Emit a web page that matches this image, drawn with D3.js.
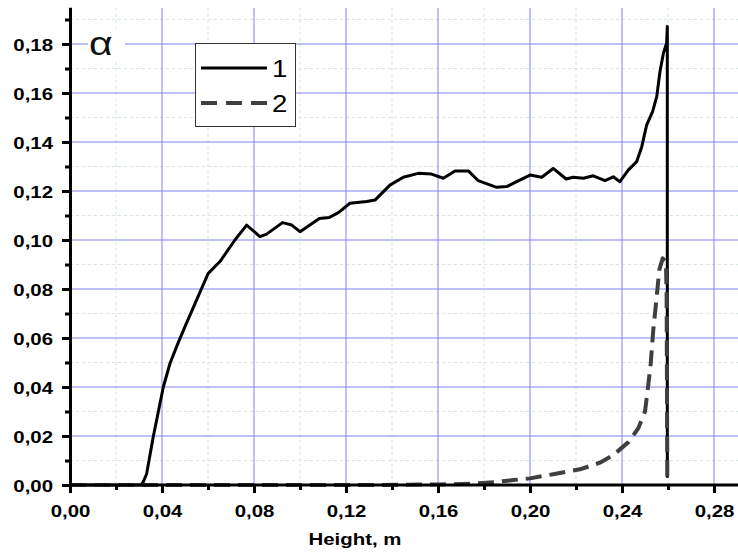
<!DOCTYPE html>
<html>
<head>
<meta charset="utf-8">
<script src="https://cdn.jsdelivr.net/npm/d3@7"></script>
<style>
  html, body { margin: 0; padding: 0; background: #fff; }
  svg { display: block; }
  text { font-family: "Liberation Sans", Arial, sans-serif; }
</style>
</head>
<body>
<svg id="chart" width="738" height="556"></svg>
<script>
// ---- data ----
const heights1 = [0, 0.0308, 0.0318, 0.0333, 0.0362, 0.0384, 0.0406, 0.0435, 0.0471, 0.0507, 0.0551, 0.0601, 0.0652,
  0.0717, 0.0768, 0.0826, 0.0855, 0.0924, 0.0964, 0.1, 0.1043, 0.1084, 0.1127, 0.1167, 0.1217, 0.129, 0.1326,
  0.1391, 0.1449, 0.1514, 0.1572, 0.1623, 0.1674, 0.1732, 0.1775, 0.1855, 0.1899, 0.1942, 0.2, 0.2051, 0.2101,
  0.2157, 0.2188, 0.2232, 0.2275, 0.2326, 0.2362, 0.2391, 0.2428, 0.2464, 0.2486, 0.2507, 0.2533, 0.2551, 0.2565,
  0.258, 0.2594, 0.2597, 0.2597];
const alpha1 = [0, 0, 0.0012, 0.0045, 0.0197, 0.0299, 0.0401, 0.0497, 0.0582, 0.0662, 0.0757, 0.0864, 0.0912,
  0.1, 0.1061, 0.1014, 0.1024, 0.1071, 0.1061, 0.1034, 0.1061, 0.1088, 0.1092, 0.1112, 0.115, 0.1157, 0.1163,
  0.1224, 0.1256, 0.1272, 0.1269, 0.1252, 0.1282, 0.1282, 0.1242, 0.1215, 0.1218, 0.1238, 0.1265, 0.1256, 0.1292,
  0.1249, 0.1256, 0.1252, 0.1262, 0.1242, 0.1258, 0.1238, 0.1286, 0.132, 0.1381, 0.1469, 0.1524, 0.1585, 0.1687,
  0.1762, 0.1803, 0.1871, 0.003];
const heights2 = [0, 0.13, 0.16, 0.175, 0.185, 0.1927, 0.2, 0.2101, 0.2217, 0.2304, 0.2362, 0.2428, 0.2471, 0.25,
  0.2512, 0.2525, 0.2536, 0.2551, 0.2562, 0.2577, 0.2591, 0.2594, 0.2597];
const alpha2 = [0, 0, 0.0002, 0.0005, 0.0012, 0.002, 0.0027, 0.0044, 0.0064, 0.0091, 0.0122, 0.0175, 0.0232, 0.03,
  0.039, 0.0497, 0.0633, 0.0769, 0.0878, 0.0925, 0.0912, 0.0769, 0.0034];
const xMajorTicks = [0, 0.04, 0.08, 0.12, 0.16, 0.20, 0.24, 0.28];
const xMinorTicks = [0.02, 0.06, 0.10, 0.14, 0.18, 0.22, 0.26];
const yMajorTicks = [0, 0.02, 0.04, 0.06, 0.08, 0.10, 0.12, 0.14, 0.16, 0.18];
const yMinorTicks = [0.01, 0.03, 0.05, 0.07, 0.09, 0.11, 0.13, 0.15, 0.17, 0.19];
const seriesNames = ["1", "2"];
const xTitle = "Height, m";
const yTitle = "α";

// ---- layout ----
const svg = d3.select("#chart");
const x = d3.scaleLinear().domain([0, 0.29]).range([70, 737]);
const y = d3.scaleLinear().domain([0, 0.195]).range([485, 7.25]);
const fmt = d => d3.format(".2f")(d).replace(".", ",");
const SX = 1.2; // horizontal stretch of the original lettering

// minor grid
const grid = svg.append("g");
grid.selectAll(".vmin").data(xMinorTicks).join("line")
  .attr("x1", d => x(d)).attr("x2", d => x(d)).attr("y1", y(0)).attr("y2", 8)
  .attr("stroke", "#cfe6cf").attr("stroke-width", 1).attr("stroke-dasharray", "3,3");
grid.selectAll(".hmin").data(yMinorTicks).join("line")
  .attr("x1", x(0)).attr("x2", 738).attr("y1", d => y(d)).attr("y2", d => y(d))
  .attr("stroke", "#d6e6d6").attr("stroke-width", 1).attr("stroke-dasharray", "3,3");
// major grid
grid.selectAll(".vmaj").data(xMajorTicks.filter(d => d > 0)).join("line")
  .attr("x1", d => x(d)).attr("x2", d => x(d)).attr("y1", y(0)).attr("y2", 8)
  .attr("stroke", "#8080f4").attr("stroke-width", 1);
grid.selectAll(".hmaj").data(yMajorTicks.filter(d => d > 0)).join("line")
  .attr("x1", x(0)).attr("x2", 738).attr("y1", d => y(d)).attr("y2", d => y(d))
  .attr("stroke", "#8080f4").attr("stroke-width", 1);

// alpha label with white backing
svg.append("rect").attr("x", 88).attr("y", 30).attr("width", 37).attr("height", 30).attr("fill", "#fff");
svg.append("g").attr("transform", `translate(89,55) scale(${SX},1)`)
  .append("text").attr("x", 0).attr("y", 0).attr("font-size", 34).attr("fill", "#111").text(yTitle);

// curves
const line = d3.line().x(d => x(d[0])).y(d => y(d[1]));
const s1 = heights1.map((h, i) => [h, alpha1[i]]);
const s2 = heights2.map((h, i) => [h, alpha2[i]]);
svg.append("path").datum(s1).attr("d", line).attr("fill", "none")
  .attr("stroke", "#000").attr("stroke-width", 3).attr("stroke-linejoin", "round");
svg.append("path").datum(s2).attr("d", line).attr("fill", "none")
  .attr("stroke", "#3f3f3f").attr("stroke-width", 4).attr("stroke-dasharray", "16,8")
  .attr("stroke-linejoin", "round");

// axes
const xAxis = svg.append("g").attr("transform", `translate(0,${y(0)})`)
  .call(d3.axisBottom(x).tickValues(xMajorTicks).tickSize(8).tickSizeOuter(0).tickFormat(fmt));
const xMinor = svg.append("g").attr("transform", `translate(0,${y(0)})`)
  .call(d3.axisBottom(x).tickValues(xMinorTicks).tickSize(5).tickSizeOuter(0).tickFormat(""));
xMinor.select(".domain").remove();
const yAxis = svg.append("g").attr("transform", `translate(${x(0)},0)`)
  .call(d3.axisLeft(y).tickValues(yMajorTicks).tickSize(8).tickSizeOuter(0).tickFormat(fmt));
const yMinor = svg.append("g").attr("transform", `translate(${x(0)},0)`)
  .call(d3.axisLeft(y).tickValues(yMinorTicks).tickSize(5).tickSizeOuter(0).tickFormat(""));
yMinor.select(".domain").remove();

xAxis.select(".domain").attr("d", `M${x(0)},0H738`);
[xAxis, xMinor, yAxis, yMinor].forEach(g => {
  g.selectAll(".domain").attr("stroke", "#000").attr("stroke-width", 3);
  g.selectAll(".tick line").attr("stroke", "#000").attr("stroke-width", 3);
});
xAxis.selectAll(".tick text")
  .attr("y", 32).attr("dy", 0)
  .attr("transform", `scale(${SX},1)`)
  .attr("font-size", 17).attr("font-weight", "bold").attr("fill", "#000")
  .attr("font-family", '"Liberation Sans", Arial, sans-serif');
yAxis.selectAll(".tick text")
  .attr("x", -17 / SX).attr("dy", "0.36em")
  .attr("transform", `scale(${SX},1)`)
  .attr("font-size", 17).attr("font-weight", "bold").attr("fill", "#000")
  .attr("font-family", '"Liberation Sans", Arial, sans-serif');

// x title
svg.append("g").attr("transform", `translate(355,545) scale(${SX},1)`)
  .append("text").attr("text-anchor", "middle").attr("font-size", 17).attr("font-weight", "bold")
  .attr("fill", "#000").text(xTitle);

// legend
const lg = svg.append("g");
lg.append("rect").attr("x", 195.5).attr("y", 43.5).attr("width", 100).attr("height", 83)
  .attr("fill", "#fff").attr("stroke", "#333").attr("stroke-width", 1);
const legendY = [68, 103];
lg.append("line").attr("x1", 201).attr("x2", 267).attr("y1", legendY[0]).attr("y2", legendY[0])
  .attr("stroke", "#000").attr("stroke-width", 3);
lg.append("line").attr("x1", 201).attr("x2", 267).attr("y1", legendY[1]).attr("y2", legendY[1])
  .attr("stroke", "#3f3f3f").attr("stroke-width", 4).attr("stroke-dasharray", "16,9");
seriesNames.forEach((n, i) => {
  lg.append("g").attr("transform", `translate(272,${legendY[i] + 9}) scale(${SX},1)`)
    .append("text").attr("font-size", 23).attr("fill", "#000").text(n);
});
</script>
</body>
</html>
